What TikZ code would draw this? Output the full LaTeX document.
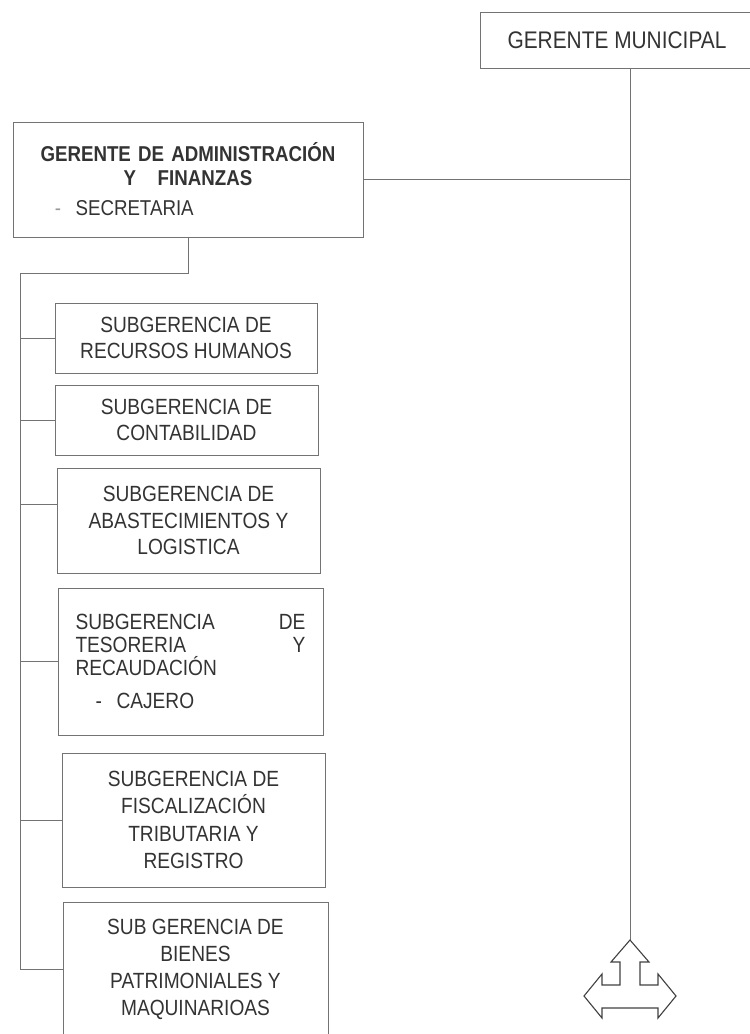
\documentclass[tikz,border=0pt]{standalone}
\usepackage{fontspec}
\setmainfont{Liberation Sans}[FakeStretch=0.87]

\begin{document}
\begin{tikzpicture}[x=1pt,y=-1pt,
  caja/.style={draw=black!55,line width=0.9pt,text=black!80,inner sep=0pt,align=center,font=\fontsize{22}{26.5}\selectfont},
  linea/.style={draw=black!55,line width=0.9pt}]
\useasboundingbox (0,0) rectangle (750,1034);
\node[caja,minimum width=274pt,minimum height=56pt,font=\fontsize{24}{28}\selectfont] (gm) at (617,40) {GERENTE MUNICIPAL};
\node[caja,minimum width=350pt,minimum height=115pt,text width=330pt,font=\fontsize{21.5}{24}\selectfont] (gaf) at (188,179.5) {\textbf{GERENTE DE ADMINISTRACIÓN}\\\textbf{Y\ \ \ FINANZAS}\\[6pt]\makebox[330pt][l]{\hspace*{32pt}{\color{black!40}-}\ \ SECRETARIA}};
\node[caja,minimum width=262pt,minimum height=70pt] (rrhh) at (186,338) {SUBGERENCIA DE\\RECURSOS HUMANOS};
\node[caja,minimum width=263pt,minimum height=70pt] (cont) at (186.5,420) {SUBGERENCIA DE\\CONTABILIDAD};
\node[caja,minimum width=263pt,minimum height=105pt] (abast) at (188.5,520.5) {SUBGERENCIA DE\\ABASTECIMIENTOS Y\\LOGISTICA};
\node[caja,minimum width=265pt,minimum height=147pt,text width=230pt,align=left,font=\fontsize{22}{23}\selectfont] (teso) at (190.5,661.5) {SUBGERENCIA\hfill DE\\TESORERIA\hfill Y\\RECAUDACIÓN\\[10pt]\hspace*{20pt}-\ \ CAJERO};
\node[caja,minimum width=263pt,minimum height=134pt,font=\fontsize{22}{27.5}\selectfont] (fisc) at (193.5,820) {SUBGERENCIA DE\\FISCALIZACIÓN\\TRIBUTARIA Y\\REGISTRO};
\node[caja,minimum width=265pt,minimum height=134pt,font=\fontsize{22}{27}\selectfont] (bienes) at (195.5,969) {SUB GERENCIA DE\\BIENES\\PATRIMONIALES Y\\MAQUINARIOAS};
\coordinate (ramal) at (20,273);
\coordinate (punta) at (630,940);
\draw[linea] (gm.south -| punta) -- (punta);
\draw[linea] (gaf.east) -- (gaf.east -| punta);
\draw[linea] (gaf.south) |- (ramal) |- (bienes.west);
\draw[linea] (ramal |- rrhh.west) -- (rrhh.west);
\draw[linea] (ramal |- cont.west) -- (cont.west);
\draw[linea] ([yshift=16pt]abast.west) -- +(-37,0);
\draw[linea] (ramal |- teso.west) -- (teso.west);
\draw[linea] (ramal |- fisc.west) -- (fisc.west);
\draw[linea,draw=black!75,line width=1.1pt,line join=miter,shift={(punta)}] (0,0) -- (19,22) -- (10,22) -- (10,45) -- (28,45) -- (28,34) -- (46,56) -- (28,78) -- (28,68) -- (-28,68) -- (-28,78) -- (-46,56) -- (-28,34) -- (-28,45) -- (-10,45) -- (-10,22) -- (-19,22) -- cycle;
\end{tikzpicture}
\end{document}
